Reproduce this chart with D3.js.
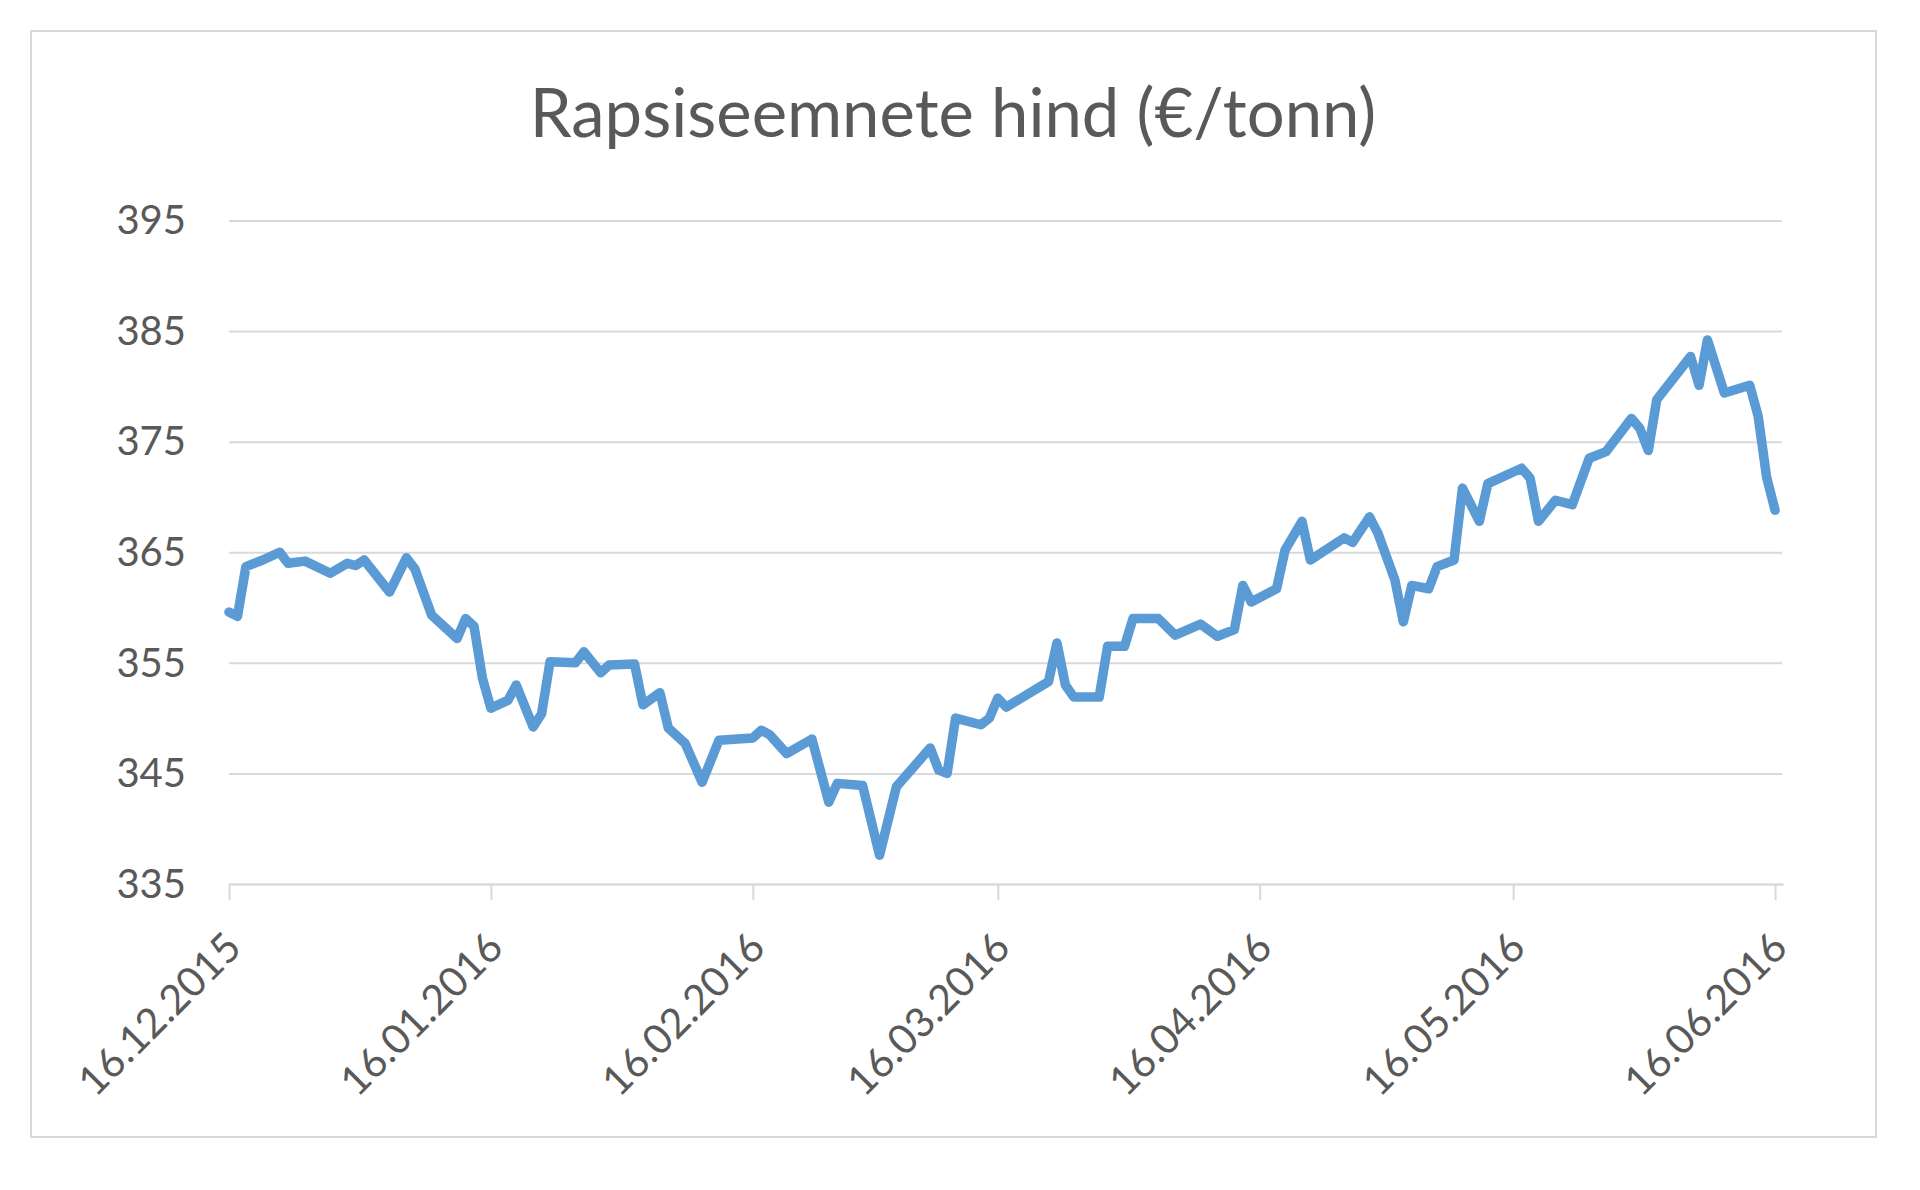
<!DOCTYPE html>
<html>
<head>
<meta charset="utf-8">
<script src="https://cdn.jsdelivr.net/npm/d3@7"></script>
<style>
  html, body { margin: 0; padding: 0; background: #ffffff; }
  svg { display: block; }
</style>
</head>
<body>
<script>
// ---------------- DATA ----------------
const chartTitle = "Rapsiseemnete hind (€/tonn)";
const xTickLabels = ["16.12.2015","16.01.2016","16.02.2016","16.03.2016","16.04.2016","16.05.2016","16.06.2016"];
const xAxisStart = "16.12.2015";
const xAxisEnd = "17.06.2016";
const yTickValues = [335, 345, 355, 365, 375, 385, 395];

const dates = [
  "16.12.2015","17.12.2015","18.12.2015","20.12.2015","22.12.2015","23.12.2015","25.12.2015","28.12.2015","30.12.2015","31.12.2015",
  "01.01.2016","04.01.2016","06.01.2016","07.01.2016","09.01.2016","12.01.2016","13.01.2016","14.01.2016","15.01.2016","16.01.2016",
  "18.01.2016","19.01.2016","21.01.2016","22.01.2016","23.01.2016","26.01.2016","27.01.2016","29.01.2016","30.01.2016",
  "02.02.2016","03.02.2016","05.02.2016","06.02.2016","08.02.2016","10.02.2016","12.02.2016","16.02.2016","17.02.2016","18.02.2016",
  "20.02.2016","23.02.2016","25.02.2016","26.02.2016","29.02.2016",
  "02.03.2016","04.03.2016","08.03.2016","09.03.2016","10.03.2016","11.03.2016","14.03.2016","15.03.2016","16.03.2016","17.03.2016",
  "22.03.2016","23.03.2016","24.03.2016","25.03.2016","28.03.2016","29.03.2016","31.03.2016",
  "01.04.2016","04.04.2016","06.04.2016","09.04.2016","11.04.2016","13.04.2016","14.04.2016","15.04.2016","18.04.2016","19.04.2016",
  "21.04.2016","22.04.2016","26.04.2016","27.04.2016","29.04.2016","30.04.2016",
  "02.05.2016","03.05.2016","04.05.2016","06.05.2016","07.05.2016","09.05.2016","10.05.2016","12.05.2016","13.05.2016","17.05.2016",
  "18.05.2016","19.05.2016","21.05.2016","23.05.2016","25.05.2016","27.05.2016","30.05.2016","31.05.2016",
  "01.06.2016","02.06.2016","06.06.2016","07.06.2016","08.06.2016","10.06.2016","13.06.2016","14.06.2016","15.06.2016","16.06.2016"
];

const prices = [
  359.6, 359.2, 363.7, 364.3, 365.0, 364.0, 364.2, 363.1, 364.0, 363.8,
  364.3, 361.4, 364.5, 363.5, 359.3, 357.2, 359.0, 358.3, 353.6, 350.9,
  351.6, 353.0, 349.2, 350.4, 355.1, 355.0, 356.0, 354.1, 354.8,
  354.9, 351.2, 352.3, 349.1, 347.7, 344.2, 348.0, 348.2, 348.9, 348.5,
  346.8, 348.1, 342.4, 344.1, 343.9,
  337.6, 343.8, 347.3, 345.3, 345.0, 350.0, 349.4, 350.0, 351.8, 351.0,
  353.3, 356.8, 353.0, 351.9, 351.9, 356.5, 356.5,
  359.0, 359.0, 357.5, 358.5, 357.4, 358.0, 362.0, 360.5, 361.7, 365.2,
  367.8, 364.3, 366.3, 365.9, 368.2, 366.7,
  362.5, 358.7, 362.0, 361.7, 363.7, 364.3, 370.8, 367.8, 371.2, 372.6,
  371.7, 367.8, 369.7, 369.3, 373.5, 374.1, 377.1, 376.2,
  374.2, 378.8, 382.7, 380.1, 384.2, 379.4, 380.1, 377.3, 371.8, 368.8
];

// ---------------- CHART ----------------
const W = 1920, H = 1190;
const plot = { left: 229, right: 1783.5, top: 220.5, bottom: 884 };
const FONT = "Lato, 'Open Sans', sans-serif";
const TEXT = "#595959";
const GRID = "#d9d9d9";

const parse = d3.utcParse("%d.%m.%Y");
const series = dates.map((d, i) => ({ date: parse(d), value: prices[i] }));

const x = d3.scaleUtc()
  .domain([parse(xAxisStart), parse(xAxisEnd)])
  .range([plot.left, plot.right]);
const y = d3.scaleLinear()
  .domain([d3.min(yTickValues), d3.max(yTickValues)])
  .range([plot.bottom, plot.top]);

const svg = d3.select("body").append("svg")
  .attr("width", W).attr("height", H)
  .attr("viewBox", `0 0 ${W} ${H}`);

svg.append("rect").attr("x", 0).attr("y", 0).attr("width", W).attr("height", H).attr("fill", "#ffffff");
svg.append("rect")
  .attr("x", 31).attr("y", 31).attr("width", 1845).attr("height", 1106)
  .attr("fill", "#ffffff").attr("stroke", GRID).attr("stroke-width", 2);

// Title
svg.append("text")
  .attr("x", 953).attr("y", 137)
  .attr("text-anchor", "middle")
  .attr("font-family", FONT)
  .attr("font-size", 67)
  .attr("fill", TEXT)
  .text(chartTitle);

// Y axis with gridlines
const yAxis = svg.append("g")
  .attr("transform", `translate(${plot.left},0)`)
  .call(d3.axisLeft(y)
    .tickValues(yTickValues)
    .tickSize(-(plot.right - plot.left - 1.5))
    .tickPadding(43)
    .tickFormat(d3.format("d")));
yAxis.select(".domain").remove();
yAxis.selectAll(".tick line").attr("stroke", GRID).attr("stroke-width", 2);
yAxis.selectAll(".tick text")
  .attr("font-family", FONT)
  .attr("font-size", 40)
  .attr("fill", TEXT)
  .attr("dy", "0.33em");

// X axis
const tickDates = xTickLabels.map(parse);
const xAxis = svg.append("g")
  .attr("transform", `translate(0,${plot.bottom})`)
  .call(d3.axisBottom(x)
    .tickValues(tickDates)
    .tickSize(16)
    .tickSizeOuter(0)
    .tickFormat((d, i) => xTickLabels[i]));
xAxis.select(".domain").attr("stroke", GRID).attr("stroke-width", 2);
xAxis.selectAll(".tick line").attr("stroke", GRID).attr("stroke-width", 2);
xAxis.selectAll(".tick text")
  .attr("font-family", FONT)
  .attr("font-size", 41)
  .attr("fill", TEXT)
  .attr("x", 0).attr("y", 0).attr("dy", 0)
  .attr("text-anchor", "end")
  .attr("transform", "translate(14,66) rotate(-45)");

// Line
const line = d3.line()
  .x(d => x(d.date))
  .y(d => y(d.value));
svg.append("path")
  .datum(series)
  .attr("d", line)
  .attr("fill", "none")
  .attr("stroke", "#5b9bd5")
  .attr("stroke-width", 9.5)
  .attr("stroke-linejoin", "round")
  .attr("stroke-linecap", "round");
</script>
</body>
</html>
